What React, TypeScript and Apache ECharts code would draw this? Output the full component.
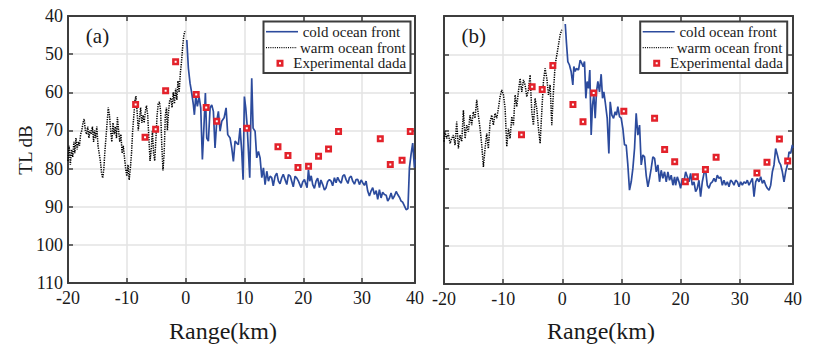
import React, { useEffect, useRef } from 'react';
import * as echarts from 'echarts';

// ---------- data ----------
const xTickLabels = ['-20', '-10', '0', '10', '20', '30', '40'];
const legendNames = ['cold ocean front', 'warm ocean front', 'Experimental dada'];
const panelLabels = ['(a)', '(b)'];

const warmA: number[][] = [
  [-20, 78], [-19.8, 74], [-19.6, 79], [-19.4, 75], [-19.2, 77], [-19.0, 73], [-18.85, 76], [-18.65, 72], [-18.45, 75],
  [-18.25, 73], [-18.05, 74], [-17.85, 71], [-17.65, 70], [-17.45, 68], [-17.25, 67], [-17.05, 70], [-16.85, 71],
  [-16.65, 69], [-16.45, 72], [-16.25, 70], [-16.05, 71], [-15.85, 69], [-15.65, 73], [-15.5, 70], [-15.3, 72],
  [-15.1, 69], [-14.9, 74], [-14.7, 76], [-14.5, 78], [-14.3, 81], [-14.1, 82.5], [-13.9, 80], [-13.75, 76],
  [-13.55, 72], [-13.35, 68], [-13.15, 64], [-12.95, 66], [-12.75, 70], [-12.55, 73], [-12.35, 68], [-12.15, 71],
  [-11.95, 69], [-11.75, 72], [-11.6, 66.5], [-11.4, 70], [-11.2, 73], [-11.0, 71], [-10.8, 76], [-10.6, 74],
  [-10.4, 77], [-10.2, 80], [-10.0, 82], [-9.8, 79], [-9.6, 83], [-9.4, 80], [-9.2, 76], [-9.0, 70], [-8.8, 66],
  [-8.6, 62], [-8.45, 61], [-8.25, 65], [-8.05, 70], [-7.85, 67], [-7.65, 64], [-7.45, 68], [-7.25, 66], [-7.05, 68],
  [-6.85, 65], [-6.65, 63.5], [-6.45, 66], [-6.25, 72], [-6.05, 78], [-5.85, 75], [-5.65, 70], [-5.45, 76],
  [-5.25, 78], [-5.05, 72], [-4.85, 66], [-4.65, 63], [-4.45, 62.5], [-4.25, 65], [-4.05, 74], [-3.85, 80.5],
  [-3.65, 76], [-3.45, 66], [-3.25, 64], [-3.1, 70], [-2.9, 65], [-2.7, 62], [-2.5, 61.5], [-2.3, 64], [-2.1, 60],
  [-1.9, 63], [-1.7, 59], [-1.5, 62], [-1.3, 57], [-1.1, 60], [-0.9, 55], [-0.7, 52], [-0.5, 48], [-0.3, 45], [-0.1, 44],
];

const coldA: number[][] = [
  [0.2, 46.3], [0.47, 53.7], [0.75, 57.6], [1.04, 60.2], [1.32, 63.3], [1.49, 65.9], [1.72, 61.1], [2.0, 63.7],
  [2.28, 61.1], [2.57, 64.1], [2.85, 77.6], [3.13, 68.5], [3.36, 60.2], [3.59, 72.0], [3.87, 72.8], [4.16, 64.1],
  [4.44, 63.3], [4.72, 65.0], [5.0, 74.6], [5.29, 67.6], [5.57, 65.0], [5.86, 70.2], [6.14, 67.6], [6.54, 66.7],
  [6.88, 64.1], [7.16, 71.1], [7.56, 72.0], [7.84, 74.6], [8.12, 78.1], [8.41, 72.8], [8.69, 73.3], [8.97, 73.7],
  [9.26, 69.4], [9.54, 75.5], [9.77, 82.9], [9.99, 61.1], [10.22, 64.1], [10.45, 68.5], [10.68, 75.5], [10.9, 82.4],
  [11.07, 68.5], [11.24, 56.3], [11.47, 69.4], [11.81, 70.2], [12.09, 77.2], [12.38, 75.5], [12.66, 77.2],
  [12.95, 82.4], [13.23, 79.8], [13.51, 84.2], [13.8, 80.7], [14.08, 83.3], [14.36, 82.0], [14.64, 82.4],
  [14.9, 84.5], [15.21, 82.0], [15.5, 81.2], [15.78, 83.3], [16.05, 84.0], [16.34, 82.4], [16.6, 81.5],
  [16.91, 82.9], [17.2, 84.2], [17.48, 81.6], [17.8, 82.0], [18.04, 83.3], [18.3, 84.8], [18.61, 82.0],
  [18.9, 82.5], [19.18, 83.3], [19.63, 85.0], [19.9, 83.5], [20.2, 82.9], [20.65, 85.0], [20.88, 80.3],
  [21.1, 83.3], [21.35, 81.9], [21.61, 84.2], [21.9, 85.2], [22.18, 83.3], [22.45, 82.5], [22.75, 85.0],
  [23.0, 83.0], [23.31, 84.2], [23.6, 85.6], [23.88, 85.0], [24.15, 83.4], [24.45, 82.9], [24.73, 83.3],
  [25.0, 84.5], [25.3, 82.4], [25.58, 83.7], [25.85, 82.3], [26.15, 83.3], [26.45, 83.8], [26.71, 82.0],
  [27.0, 81.6], [27.28, 82.9], [27.6, 83.9], [27.85, 82.4], [28.15, 82.0], [28.41, 83.3], [28.7, 84.1],
  [28.98, 82.9], [29.25, 82.8], [29.55, 84.2], [29.85, 83.0], [30.11, 83.7], [30.4, 84.4], [30.68, 83.3],
  [30.96, 85.9], [31.25, 87.2], [31.5, 86.0], [31.81, 85.0], [32.1, 86.8], [32.4, 85.8], [32.66, 88.1],
  [32.95, 85.5], [33.23, 87.7], [33.5, 86.2], [33.8, 86.8], [34.1, 87.0], [34.36, 88.5], [34.65, 87.8],
  [34.93, 86.4], [35.2, 88.0], [35.5, 87.2], [35.8, 86.0], [36.06, 86.8], [36.35, 87.5], [36.63, 88.5],
  [36.9, 88.8], [37.2, 89.8], [37.5, 90.8], [37.8, 90.5], [38.05, 79.8], [38.33, 76.3], [38.61, 73.3],
  [38.9, 79.8], [39.0, 77.6],
];

const expA: number[][] = [
  [-8.5, 63.2], [-6.9, 71.8], [-5.1, 69.7], [-3.4, 59.6], [-1.7, 52.0], [1.8, 60.6], [3.5, 64.0], [5.3, 67.6],
  [10.4, 69.4], [15.7, 74.3], [17.4, 76.6], [19.1, 79.7], [20.9, 79.4], [22.6, 76.8], [24.3, 74.9], [26.0, 70.3],
  [33.1, 72.2], [34.8, 78.9], [36.8, 77.8], [38.2, 70.3],
];

const warmB: number[][] = [
  [-20, 72.8], [-19.83, 70.2], [-19.54, 72.0], [-19.26, 70.7], [-18.98, 73.3], [-18.7, 72.0], [-18.42, 71.1],
  [-18.13, 73.7], [-17.85, 67.6], [-17.57, 74.6], [-17.29, 71.1], [-17.0, 72.8], [-16.72, 64.6], [-16.44, 72.0],
  [-16.16, 68.5], [-15.88, 70.2], [-15.6, 65.9], [-15.31, 68.5], [-15.03, 65.0], [-14.75, 66.7], [-14.47, 61.9],
  [-14.19, 65.9], [-13.9, 69.4], [-13.62, 73.7], [-13.34, 79.4], [-13.06, 74.6], [-12.78, 70.7], [-12.5, 74.6],
  [-12.21, 67.6], [-11.93, 65.9], [-11.65, 68.5], [-11.37, 65.4], [-11.08, 66.7], [-10.8, 64.1], [-10.52, 61.1],
  [-10.24, 59.3], [-9.95, 60.6], [-9.67, 64.1], [-9.39, 74.1], [-9.11, 69.4], [-8.83, 72.0], [-8.54, 66.3],
  [-8.26, 68.5], [-7.98, 60.6], [-7.7, 63.7], [-7.42, 59.8], [-7.14, 56.3], [-6.85, 59.8], [-6.57, 56.7],
  [-6.29, 58.0], [-6.01, 61.1], [-5.73, 59.3], [-5.44, 55.4], [-5.16, 65.0], [-4.88, 68.5], [-4.6, 61.5],
  [-4.32, 64.1], [-4.03, 69.4], [-3.75, 73.3], [-3.47, 65.0], [-3.19, 57.1], [-2.91, 53.7], [-2.62, 56.3],
  [-2.34, 60.6], [-2.06, 58.0], [-1.78, 68.5], [-1.5, 59.8], [-1.21, 52.8], [-0.93, 50.2], [-0.65, 47.6],
  [-0.37, 44.9], [-0.09, 43.6],
];

const coldB: number[][] = [
  [0.5, 42.1], [0.6, 44.5], [0.7, 47.0], [0.93, 51.9], [1.21, 52.8], [1.49, 54.5], [1.78, 58.0], [1.95, 53.2],
  [2.17, 54.5], [2.4, 53.7], [2.74, 54.1], [3.02, 51.5], [3.3, 52.4], [3.53, 53.2], [3.75, 51.9], [3.98, 61.5],
  [4.2, 57.1], [4.43, 58.9], [4.65, 54.1], [4.88, 71.1], [5.1, 63.3], [5.33, 60.6], [5.56, 66.7], [5.78, 59.8],
  [6.01, 57.1], [6.29, 59.8], [6.57, 55.2], [6.8, 61.5], [7.02, 59.8], [7.25, 62.4], [7.59, 66.7], [7.87, 75.9],
  [8.1, 62.4], [8.38, 65.9], [8.66, 66.7], [8.94, 65.0], [9.16, 65.9], [9.39, 63.7], [9.67, 66.3], [9.95, 66.7],
  [10.24, 69.4], [10.52, 73.7], [10.8, 73.7], [11.08, 78.9], [11.36, 85.5], [11.65, 83.3], [11.93, 79.8],
  [12.21, 74.6], [12.49, 65.4], [12.77, 71.1], [13.06, 68.5], [13.34, 78.9], [13.62, 76.3], [13.9, 76.8],
  [14.18, 81.6], [14.47, 84.6], [14.75, 82.4], [15.03, 79.8], [15.31, 76.8], [15.6, 77.2], [15.88, 80.7],
  [16.16, 78.9], [16.44, 83.3], [16.72, 80.3], [17.0, 82.4], [17.28, 80.7], [17.57, 83.3], [17.85, 80.7],
  [18.13, 82.9], [18.41, 81.6], [18.7, 84.2], [18.98, 82.0], [19.15, 84.2], [19.44, 82.0], [19.72, 83.3],
  [20.0, 85.0], [20.28, 82.4], [20.56, 83.3], [20.85, 80.7], [21.13, 82.0], [21.41, 83.3], [21.69, 81.1],
  [21.97, 84.2], [22.26, 83.3], [22.54, 85.9], [22.82, 85.0], [23.1, 82.9], [23.38, 87.2], [23.67, 83.3],
  [23.95, 81.1], [24.23, 80.3], [24.51, 84.2], [24.79, 85.0], [25.08, 83.7], [25.36, 83.3], [25.64, 82.4],
  [25.92, 83.3], [26.2, 81.6], [26.49, 82.4], [26.77, 82.0], [27.05, 84.2], [27.33, 82.9], [27.61, 84.2],
  [27.9, 83.3], [28.18, 84.6], [28.46, 82.9], [28.74, 83.3], [29.02, 84.2], [29.31, 82.9], [29.59, 83.3],
  [29.87, 84.6], [30.15, 83.3], [30.43, 84.2], [30.72, 83.3], [31.0, 83.7], [31.28, 82.9], [31.56, 84.2],
  [31.84, 83.3], [32.13, 82.4], [32.41, 87.2], [32.69, 83.3], [32.97, 82.4], [33.25, 83.3], [33.54, 82.0],
  [33.82, 83.7], [34.1, 82.9], [34.38, 84.2], [34.66, 85.0], [34.95, 85.5], [35.23, 84.2], [35.51, 80.7],
  [35.79, 78.9], [36.07, 74.6], [36.36, 76.3], [36.64, 78.1], [36.92, 78.9], [37.2, 80.7], [37.48, 83.3],
  [37.76, 80.7], [38.05, 78.9], [38.33, 75.5], [38.61, 75.9], [38.89, 73.7], [39.0, 74.5],
];

const expB: number[][] = [
  [-6.9, 71.0], [-5.1, 58.5], [-3.4, 59.2], [-1.6, 52.9], [1.8, 63.1], [3.5, 67.6], [5.3, 60.1], [10.4, 64.9],
  [15.6, 66.7], [17.3, 74.9], [19.0, 78.1], [20.8, 83.3], [22.5, 82.0], [24.2, 80.1], [26.0, 76.9], [32.9, 81.0],
  [34.6, 78.2], [36.7, 72.1], [38.1, 77.9],
];

// ---------- styles ----------
const SERIF = 'Liberation Serif';
const BLUE = '#2c4b9d';
const RED = '#e3222b';
const AXIS = '#3d3d3d';
const TEXT = '#1a1a1a';
const GRIDLINE = '#e3e3e3';

const X_MIN = -20;
const X_MAX = 39;
const Y_MIN = 40;
const Y_MAX = 110;

function xLabel(v: number) {
  const idx = Math.round((v - X_MIN) / 10);
  return xTickLabels[idx] ?? String(v);
}

function makeAxes(gridIndex: number, showYLabels: boolean) {
  const line = { show: true, onZero: false, lineStyle: { color: AXIS, width: 2 } };
  const tick = { show: true, inside: true, length: 5, lineStyle: { color: AXIS, width: 1.5 } };
  const xs = [
    {
      type: 'value', gridIndex, min: X_MIN, max: X_MAX, interval: 10, position: 'bottom',
      axisLine: line, axisTick: tick,
      axisLabel: { formatter: xLabel, fontSize: 18, fontFamily: SERIF, color: TEXT, margin: 6 },
      splitLine: { show: true, lineStyle: { color: GRIDLINE, width: 1.5 } },
    },
    {
      type: 'value', gridIndex, min: X_MIN, max: X_MAX, interval: 10, position: 'top',
      axisLine: line, axisTick: tick, axisLabel: { show: false }, splitLine: { show: false },
    },
  ];
  const ys = [
    {
      type: 'value', gridIndex, min: Y_MIN, max: Y_MAX, interval: 10, inverse: true, position: 'left',
      axisLine: line, axisTick: tick,
      axisLabel: { show: showYLabels, fontSize: 18, fontFamily: SERIF, color: TEXT, margin: 5 },
      splitLine: { show: true, lineStyle: { color: GRIDLINE, width: 1.5 } },
    },
    {
      type: 'value', gridIndex, min: Y_MIN, max: Y_MAX, interval: 10, inverse: true, position: 'right',
      axisLine: line, axisTick: tick, axisLabel: { show: false }, splitLine: { show: false },
    },
  ];
  return { xs, ys };
}

function makeSeries(xi: number, yi: number, cold: number[][], warm: number[][], exp: number[][]) {
  return [
    {
      name: legendNames[0], type: 'line', xAxisIndex: xi, yAxisIndex: yi, data: cold, symbol: 'none',
      lineStyle: { color: BLUE, width: 1.7 }, z: 3,
    },
    {
      name: legendNames[1], type: 'line', xAxisIndex: xi, yAxisIndex: yi, data: warm, symbol: 'none',
      lineStyle: { color: '#000', width: 1.5, type: [1.3, 1.1] }, z: 2,
    },
    {
      name: legendNames[2], type: 'scatter', xAxisIndex: xi, yAxisIndex: yi, data: exp, symbol: 'rect',
      symbolSize: 4.5, itemStyle: { color: '#fff', borderColor: RED, borderWidth: 2.5, opacity: 1 }, z: 5,
    },
  ];
}

function txt(x: number, y: number, text: string, size: number, align: string, extra: any = {}) {
  return {
    type: 'text', z: 100, x, y, ...extra,
    style: { text, fontSize: size, fontFamily: SERIF, fill: TEXT, align, verticalAlign: 'middle' },
  };
}

function legendGraphic(dx: number) {
  const z = 100;
  return [
    { type: 'rect', z, shape: { x: 263.5 + dx, y: 21.5, width: 147, height: 51.5 }, style: { fill: '#fff', stroke: AXIS, lineWidth: 2 } },
    { type: 'line', z, shape: { x1: 266 + dx, y1: 31.7, x2: 298 + dx, y2: 31.7 }, style: { stroke: BLUE, lineWidth: 1.6 } },
    { type: 'line', z, shape: { x1: 266 + dx, y1: 47.7, x2: 297 + dx, y2: 47.7 }, style: { stroke: '#000', lineWidth: 1.2, lineDash: [1, 1.2] } },
    { type: 'rect', z, shape: { x: 280 + dx - 2.25, y: 63.3 - 2.25, width: 4.5, height: 4.5 }, style: { fill: '#fff', stroke: RED, lineWidth: 2.5 } },
    txt(302.7 + dx, 31.7, legendNames[0], 15, 'left'),
    txt(300 + dx, 47.7, legendNames[1], 15, 'left'),
    txt(293.3 + dx, 63.3, legendNames[2], 15, 'left'),
  ];
}

export default function App() {
  const ref = useRef<HTMLDivElement>(null);
  useEffect(() => {
    if (!ref.current) return;
    const chart = echarts.init(ref.current, undefined, { renderer: 'svg' });
    const a = makeAxes(0, true);
    const b = makeAxes(1, false);
    chart.setOption({
      animation: false,
      backgroundColor: '#fff',
      grid: [
        { left: 68, top: 16, width: 347, height: 267 },
        { left: 444, top: 16, width: 349, height: 268 },
      ],
      xAxis: [...a.xs, ...b.xs],
      yAxis: [...a.ys, ...b.ys],
      series: [...makeSeries(0, 0, coldA, warmA, expA), ...makeSeries(2, 2, coldB, warmB, expB)],
      graphic: [
        txt(97.5, 36, panelLabels[0], 21, 'center'),
        txt(473.7, 36, panelLabels[1], 21, 'center'),
        txt(25, 150, 'TL dB', 19, 'center', { rotation: Math.PI / 2 }),
        txt(223, 331, 'Range(km)', 24, 'center'),
        txt(601, 331, 'Range(km)', 24, 'center'),
        ...legendGraphic(0),
        ...legendGraphic(376.7),
      ],
    });
    return () => chart.dispose();
  }, []);
  return <div ref={ref} style={{ position: 'fixed', left: 0, top: 0, width: 813, height: 347, background: '#fff' }} />;
}
